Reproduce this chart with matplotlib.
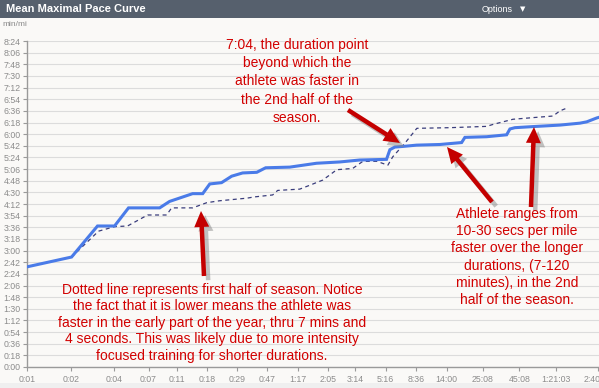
import matplotlib
matplotlib.use('Agg')
import matplotlib.pyplot as plt
from matplotlib.patches import Rectangle, FancyArrow
from matplotlib.transforms import Affine2D
import matplotlib.patheffects as pe
from matplotlib.ticker import FixedLocator, NullLocator, FuncFormatter

plt.rcParams['font.family'] = ['Liberation Sans', 'DejaVu Sans']

# ---- data (duration in seconds, pace in seconds per mile) ----
second_half_dur = [1, 2.03, 3.08, 4.05, 5.07, 8.36, 9.81, 14.2, 16.7, 18.7, 22.6, 26.6,
                   31.7, 39.8, 45.9, 67.6, 104, 151, 208, 320, 338, 366, 416, 519, 754,
                   1070, 1128, 1599, 2206, 2325, 2520, 3573, 5196, 7169, 7985, 9378, 9729]
second_half_pace = [155, 170, 218, 218, 246, 246, 256, 268, 268, 283, 285, 295,
                    300, 301, 308, 309, 315, 317, 320, 321, 336, 340, 341, 343, 344,
                    347, 355, 356, 359, 368, 370, 372, 374, 377, 379, 385, 386]

first_half_dur = [1, 2.03, 3.13, 4.05, 4.99, 6.89, 9.35, 10.13, 14.2, 17.8, 21.9, 33.9,
                  38.5, 51.4, 55.7, 79.4, 93.3, 115, 144, 186, 219, 274, 327, 354, 430,
                  521, 886, 1599, 1769, 2441, 3573, 4644, 5196, 5910]
first_half_pace = [155, 170, 210, 217, 218, 235, 235, 246, 246, 254, 257, 261,
                   263, 266, 273, 275, 281, 289, 305, 307, 318, 318, 312, 325, 346,
                   369, 370, 372, 375, 383, 386, 388, 396, 401]

x_tick_values = [1, 2, 4, 7, 11, 18, 29, 47, 77, 125, 194, 316, 516, 840, 1508, 2708, 4863, 9620]
x_tick_labels = ['0:01', '0:02', '0:04', '0:07', '0:11', '0:18', '0:29', '0:47', '1:17',
                 '2:05', '3:14', '5:16', '8:36', '14:00', '25:08', '45:08', '1:21:03', '2:40:20']
y_tick_values = list(range(0, 505, 18))

title = 'Mean Maximal Pace Curve'
note_top = ['7:04, the duration point', 'beyond which the', 'athlete was faster in',
            'the 2nd half of the', 'season.']
note_right = ['Athlete ranges from', '10-30 secs per mile', 'faster over the longer',
              'durations, (7-120', 'minutes), in the 2nd', 'half of the season.']
note_bottom = ['Dotted line represents first half of season. Notice',
               'the fact that it is lower means the athlete was',
               'faster in the early part of the year, thru 7 mins and',
               '4 seconds. This was likely due to more intensity',
               'focused training for shorter durations.']

W, H, DPI = 599, 388, 100
BG = '#faf9f7'
fig = plt.figure(figsize=(W / DPI, H / DPI), dpi=DPI, facecolor=BG)

# pixel (top-left origin) transform
pix = Affine2D().scale(1, -1).translate(0, H).scale(1 / DPI) + fig.dpi_scale_trans

# header bar
fig.patches.append(Rectangle((0, H - 18), W, 18, transform=Affine2D().scale(1 / DPI) + fig.dpi_scale_trans,
                             facecolor='#56606d', edgecolor='none', zorder=0))
fig.patches.append(Rectangle((0, 0), W, 5, transform=Affine2D().scale(1 / DPI) + fig.dpi_scale_trans,
                             facecolor='#efefef', edgecolor='none', zorder=0))
fig.text(6, 9.5, title, transform=pix, color='white', fontsize=8, weight='bold', va='center', ha='left')
fig.text(513, 9.5, 'Options', transform=pix, color='white', fontsize=6.5, va='center', ha='right')
fig.text(520, 9.5, '\u25BC', transform=pix, color='white', fontsize=5, va='center', ha='left',
         family='DejaVu Sans')
fig.text(2, 25, 'min/mi', transform=pix, color='#8a8a8a', fontsize=6, va='center', ha='left')

ax = fig.add_axes([27.5 / W, (H - 367) / H, (W - 27.5) / W, (367 - 41) / H])
ax.set_facecolor(BG)
ax.set_xscale('log', base=2)
ax.set_xlim(1, 9729)
ax.set_ylim(0, 504)

ax.plot(first_half_dur, first_half_pace, color='#3a3d7c', lw=0.9, dashes=(3.2, 2.8), zorder=3)
ax.plot(second_half_dur, second_half_pace, color='#4a7be8', lw=2.2, zorder=4, solid_joinstyle='miter')

ax.yaxis.set_major_locator(FixedLocator(y_tick_values))
ax.yaxis.set_major_formatter(FuncFormatter(lambda v, p: f"{int(v) // 60}:{int(v) % 60:02d}"))
ax.xaxis.set_major_locator(FixedLocator(x_tick_values))
ax.xaxis.set_minor_locator(NullLocator())
ax.set_xticklabels(x_tick_labels)
ax.grid(axis='y', color='#dcdcdc', lw=0.8, zorder=0)
ax.set_axisbelow(True)
for s in ['top', 'right']:
    ax.spines[s].set_visible(False)
for s in ['left', 'bottom']:
    ax.spines[s].set_color('#9a9a9a')
    ax.spines[s].set_linewidth(1.0)
ax.tick_params(axis='both', colors='#9a9a9a', labelcolor='#8c8c8c', labelsize=6.3, length=3, width=0.8, pad=2)
ax.tick_params(axis='x', pad=3)

# annotations
RED = '#d20000'
def block(lines, cx, y0, dy):
    for i, t in enumerate(lines):
        fig.text(cx, y0 + i * dy, t, transform=pix, color=RED, fontsize=10, ha='center', va='center')

block(note_top, 297, 45, 18.2)
block(note_right, 517, 214, 17.2)
block(note_bottom, 212, 290, 16.4)

arrows = [((348, 110), (400, 143)), ((492, 202), (447, 147)),
          ((531, 207), (534, 127)), ((204, 276), (201, 211))]
for (x0, y0), (x1, y1) in arrows:
    a = FancyArrow(x0, y0, x1 - x0, y1 - y0, width=4.5, head_width=15, head_length=16,
                   length_includes_head=True, transform=pix, facecolor='#c40000', edgecolor='none',
                   path_effects=[pe.SimplePatchShadow(offset=(3, -3), shadow_rgbFace='#888888', alpha=0.5),
                                 pe.Normal()])
    fig.patches.append(a)

fig.savefig('out.png', dpi=DPI, facecolor=BG)
